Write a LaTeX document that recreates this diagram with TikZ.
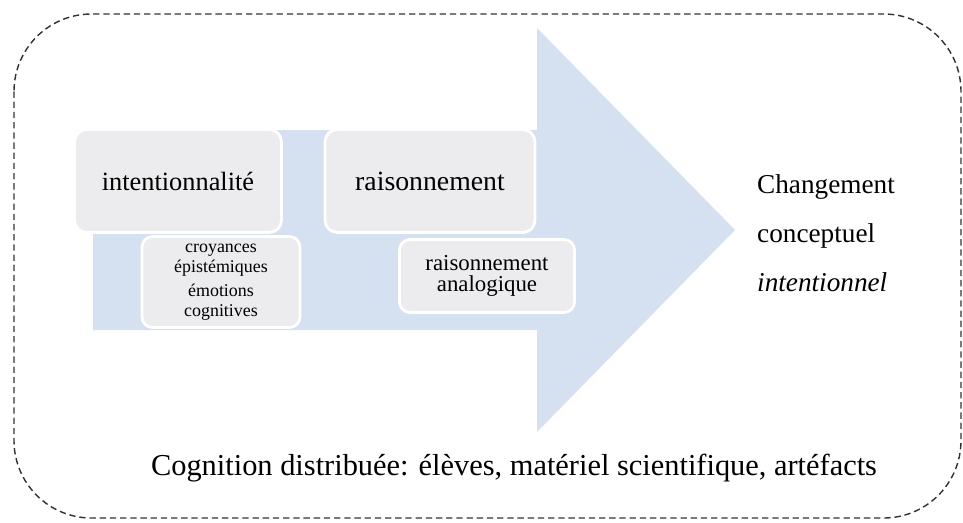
\documentclass[tikz,border=0pt]{standalone}
\usepackage{fontspec}
\setmainfont{Liberation Serif}
\usetikzlibrary{positioning}
\definecolor{arrowblue}{RGB}{213,224,240}
\definecolor{boxgray}{RGB}{236,235,237}
\definecolor{framegray}{RGB}{50,50,50}

\begin{document}
\begin{tikzpicture} [x=0.02cm, y=-0.02cm,
  bigbox/.style={draw=white, line width=1.6pt, fill=boxgray, rounded corners=7pt, inner sep=0pt},
  smallbox/.style={draw=white, line width=1.6pt, fill=boxgray, rounded corners=6pt, inner sep=0pt, align=center}]
 \useasboundingbox (0,0) rectangle (963,522);
 % cadre
 \draw [framegray, line width=0.8pt, dash pattern=on 3.6pt off 2.2pt, rounded corners=1.55cm] (14,14) rectangle (961,518);
 % fleche
 \fill [arrowblue] (93,130) -- (537,130) -- (537,28) -- (735,230) -- (537,432) -- (537,330) -- (93,330) -- cycle;
 \node [bigbox, minimum width=4.14cm, minimum height=2.06cm, font=\fontsize{15}{18}\selectfont] (intent) at (178,181) {intentionnalité};
 \node [bigbox, minimum width=4.2cm, minimum height=2.06cm, font=\fontsize{15.8}{18}\selectfont] (raison) at (430,181) {raisonnement};
 \node [smallbox, minimum width=3.16cm, minimum height=1.82cm, font=\fontsize{10.2}{11.5}\selectfont] (croyances) at (221,282) {croyances\\épistémiques\\[2pt]émotions\\cognitives};
 \node [smallbox, minimum width=3.5cm, minimum height=1.46cm, font=\fontsize{13}{12}\selectfont] (analog) at (487,276) {raisonnement\\analogique};
 \node [align=left, font=\fontsize{15.5}{28}\selectfont] (changement) at (826,233) {Changement\\conceptuel\\\textit{intentionnel}};
 \node [font=\fontsize{17.3}{20}\selectfont] (cognition) at (514,468) {Cognition distribuée: élèves, matériel scientifique, artéfacts};
\end{tikzpicture}
\end{document}
